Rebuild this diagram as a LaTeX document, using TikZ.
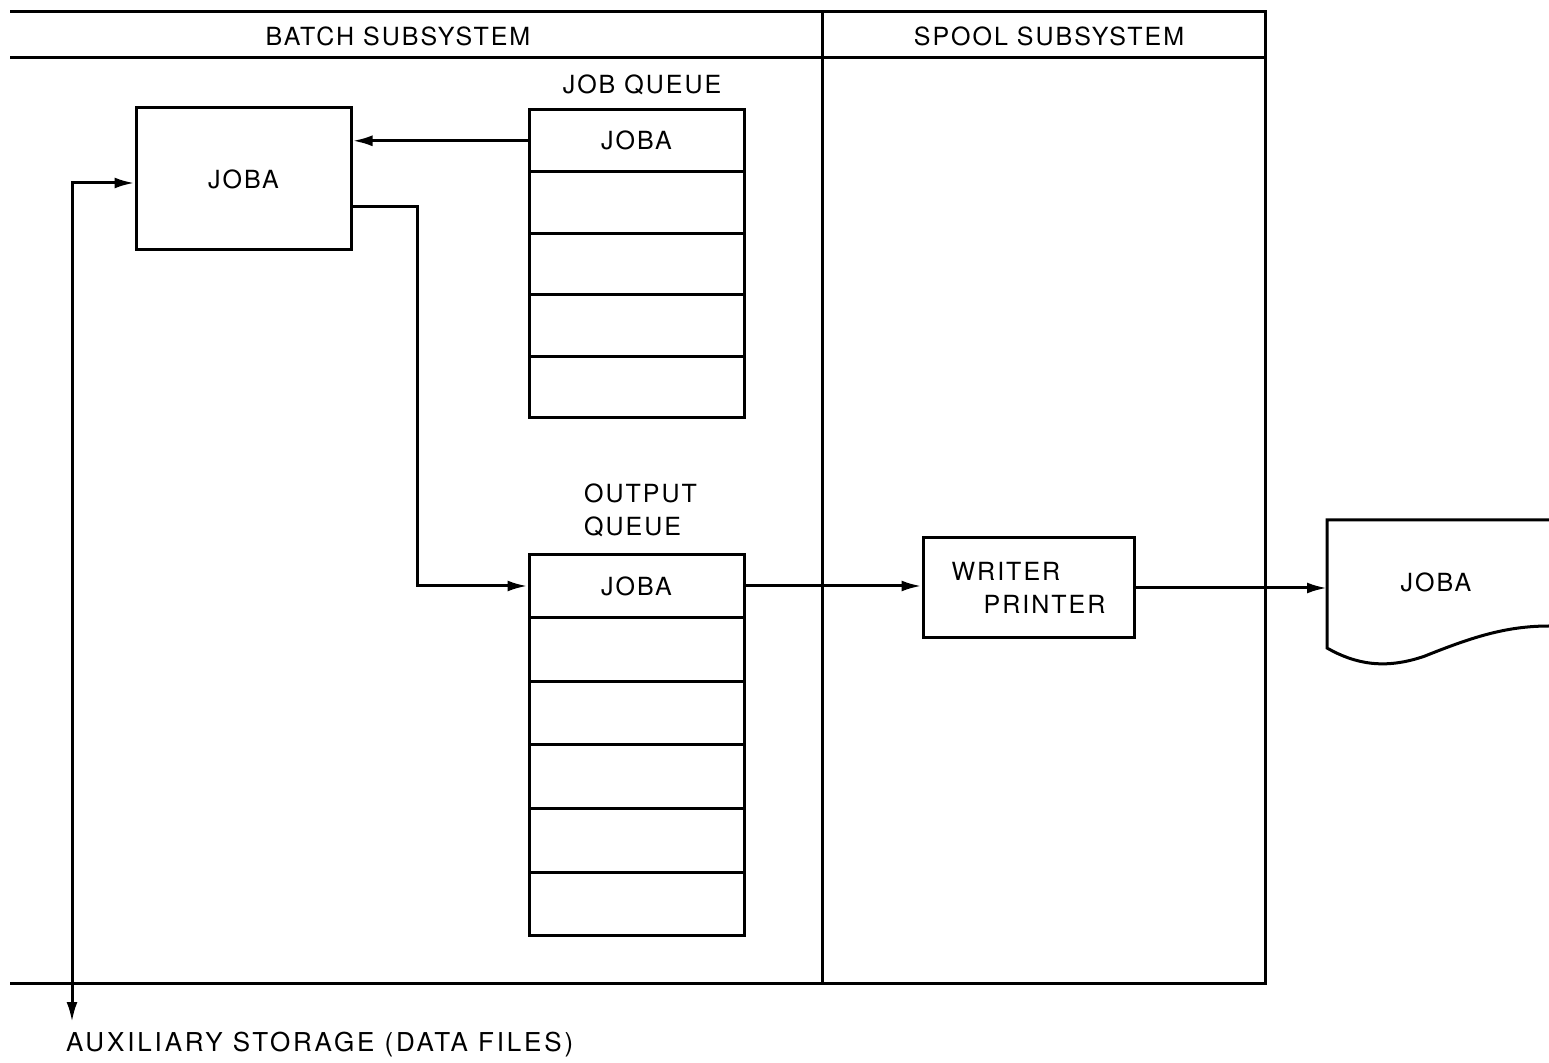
\documentclass[tikz,border=0pt]{standalone}
\usepackage{fontspec}
\setmainfont{TeX Gyre Heros}[LetterSpace=8]
\usetikzlibrary{arrows.meta}

\begin{document}
\begin{tikzpicture}[x=0.5pt, y=-0.5pt, line width=1.5pt,
  every node/.style={font=\fontsize{12.5}{16.5}\selectfont},
  cell/.style={draw, minimum width=107.5pt, inner sep=0pt},
  box/.style={draw, inner sep=0pt},
  flow/.style={-{Latex[length=10pt,width=5.5pt]}}]
\useasboundingbox (0,0) rectangle (1549,1063);
% frame of the two subsystems
\draw (10,12) -- (1265,12) -- (1265,983) -- (10,983);
\draw (10,58) -- (1265,58);
\draw (822,12) -- (822,983);
\node (batch) at (398,36) {BATCH SUBSYSTEM};
\node (spool) at (1049,36) {SPOOL SUBSYSTEM};
% running job
\node[box, minimum width=107.5pt, minimum height=71pt] (job) at (243.5,179) {JOBA};
% job queue
\node (jqtitle) at (642,85) {JOB\ QUEUE};
\node[cell, minimum height=30.8pt] (jq1) at (636.5,140.8) {JOBA};
\foreach \i in {2,...,5}
  \node[cell, minimum height=30.8pt] (jq\i) at (636.5,{140.8+61.6*(\i-1)}) {};
% output queue
\node[anchor=west, align=left] (oqtitle) at (576,510) {OUTPUT\\QUEUE};
\node[cell, minimum height=31.8pt] (oq1) at (636.5,586) {JOBA};
\foreach \i in {2,...,6}
  \node[cell, minimum height=31.8pt] (oq\i) at (636.5,{586+63.6*(\i-1)}) {};
% spool writer
\node[box, minimum width=105.5pt, minimum height=50pt, align=left] (writer) at (1028.5,588) {WRITER\\\hspace{16pt}PRINTER};
% printed output
\draw (1549,520) -- (1327,520) -- (1327,648)
  .. controls (1355,664) and (1385,670) .. (1425,656)
  .. controls (1470,638) and (1505,626) .. (1549,626);
\node (doc) at (1436,582) {JOBA};
\coordinate (docin) at (1327,588);
% connectors
\coordinate (bend) at (417,0);
\coordinate (aux) at (72,1022);
\draw[flow] (jq1.west) -- (jq1.west -| job.east);
\draw[flow] ([yshift=-14pt]job.east) -| (bend |- oq1.west) -- (oq1.west);
\draw[flow] (oq1.east) -- (oq1.east -| writer.west);
\draw[flow] (writer.east) -- (docin);
\draw[{Latex[length=10pt,width=5.5pt]}-{Latex[length=10pt,width=5.5pt]}] (aux) |- ([yshift=-2pt]job.west);
\node[anchor=west, font=\fontsize{13}{15}\addfontfeature{LetterSpace=11}] (auxlabel) at (58,1045) {AUXILIARY STORAGE (DATA FILES)};
\end{tikzpicture}
\end{document}
